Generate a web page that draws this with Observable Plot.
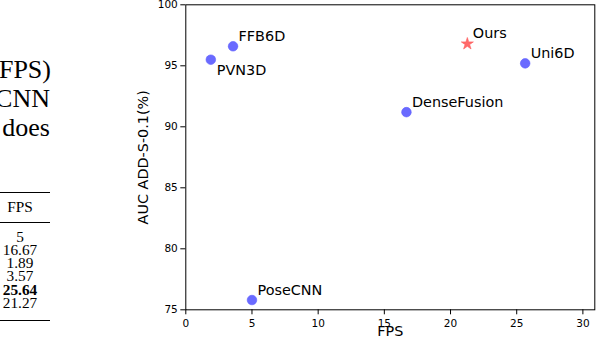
<!DOCTYPE html>
<html>
<head>
<meta charset="utf-8">
<script src="https://cdn.jsdelivr.net/npm/d3@7"></script>
<script src="https://cdn.jsdelivr.net/npm/@observablehq/plot@0.6"></script>
<style>
  html, body { margin: 0; padding: 0; background: #fff; }
  #page { position: relative; width: 596px; height: 350px; overflow: hidden; background: #fff; }
  #chart { position: absolute; left: 0; top: 0; }
  .para { position: absolute; right: 545px; font-family: "Liberation Serif", serif; font-size: 26px; line-height: 26px; white-space: nowrap; color: #000; }
  .cell { position: absolute; left: 0; width: 40px; text-align: center; font-family: "Liberation Serif", serif; font-size: 15.3px; line-height: 12px; height: 12px; white-space: nowrap; color: #000; }
  .rule { position: absolute; left: 0; width: 50px; background: #000; }
</style>
</head>
<body>
<div id="page">
  <div id="chart"></div>
  <div class="para" style="top:57px">FPS)</div>
  <div class="para" style="top:86px;right:546px">CNN</div>
  <div class="para" style="top:115px;right:546px">does</div>
  <div class="rule" style="top:192px;height:1.4px"></div>
  <div class="cell" style="top:201px" id="hdr"></div>
  <div class="rule" style="top:222px;height:0.8px"></div>
  <div id="rows"></div>
  <div class="rule" style="top:320px;height:1.4px"></div>
</div>
<script>
// ---- data ----
const methods = ["PoseCNN", "DenseFusion", "PVN3D", "FFB6D", "Uni6D", "Ours"];
const fps = [5, 16.67, 1.89, 3.57, 25.64, 21.27];
const auc = [75.8, 91.2, 95.5, 96.6, 95.2, 96.8];
const tableFps = ["5", "16.67", "1.89", "3.57", "25.64", "21.27"];
const xTicks = [0, 5, 10, 15, 20, 25, 30];
const yTicks = [75, 80, 85, 90, 95, 100];
const xLabel = "FPS";
const yLabel = "AUC ADD-S-0.1(%)";
const tableHeader = "FPS";

// ---- table fragment at left ----
document.getElementById("hdr").textContent = tableHeader;
const rowsEl = document.getElementById("rows");
const best = d3.max(fps);
tableFps.forEach((t, i) => {
  const el = document.createElement("div");
  el.className = "cell";
  el.style.top = (230.5 + i * 13.3) + "px";
  if (fps[i] === best) el.style.fontWeight = "bold";
  el.textContent = t;
  rowsEl.appendChild(el);
});

// ---- chart ----
const data = methods.map((m, i) => ({method: m, fps: fps[i], auc: auc[i]}));
const isOurs = d => d.method === "Ours";
const below = d => d.method === "PVN3D";

const chart = Plot.plot({
  width: 596,
  height: 350,
  marginLeft: 185.3,
  marginRight: 1.7,
  marginTop: 4.3,
  marginBottom: 40.7,
  style: {fontFamily: "DejaVu Sans", fontSize: "10.5px", background: "transparent", color: "#000"},
  x: {domain: [0, 30.9], ticks: xTicks},
  y: {domain: [75, 100], ticks: yTicks},
  marks: [
    Plot.axisX({ticks: xTicks, tickSize: 5, tickPadding: 4.5, label: null}),
    Plot.axisY({ticks: yTicks, tickSize: 5, tickPadding: 3, label: null}),
    Plot.frame({stroke: "#000", strokeWidth: 1}),
    Plot.dot(data.filter(d => !isOurs(d)), {x: "fps", y: "auc", r: 4.8, fill: "#6a6aff", stroke: "#5c5cff", strokeWidth: 0.6}),
    Plot.dot(data.filter(isOurs), {x: "fps", y: "auc", symbol: "star", r: 3.8, fill: "#ff6a6a", stroke: "#ff5c5c", strokeWidth: 0.6}),
    Plot.text(data.filter(d => !below(d)), {x: "fps", y: "auc", text: "method", textAnchor: "start", dx: 5.5, dy: -10, fontSize: 14.4, fill: "#000"}),
    Plot.text(data.filter(below), {x: "fps", y: "auc", text: "method", textAnchor: "start", dx: 6, dy: 11, fontSize: 14.4, fill: "#000"}),
    Plot.text([yLabel], {text: d => d, frameAnchor: "left", textAnchor: "middle", lineAnchor: "middle", dx: -42.3, rotate: -90, fontSize: 14.4, fill: "#000"}),
    Plot.text([xLabel], {text: d => d, frameAnchor: "bottom", textAnchor: "middle", lineAnchor: "middle", dy: 21.8, fontSize: 14.4, fill: "#000"})
  ]
});
document.getElementById("chart").appendChild(chart);
</script>
</body>
</html>
